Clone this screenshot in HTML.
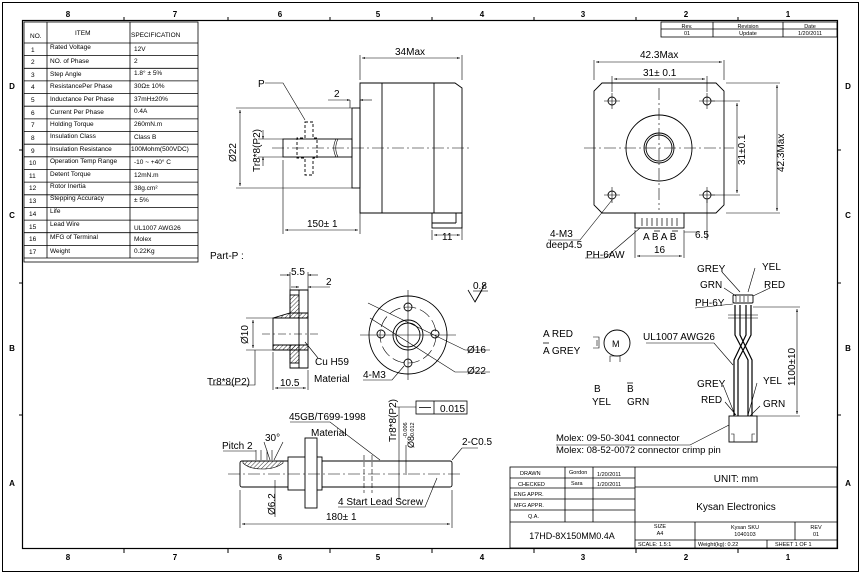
<!DOCTYPE html>
<html><head><meta charset="utf-8"><style>
html,body{margin:0;padding:0;background:#fff}
svg{display:block;font-family:"Liberation Sans",Arial,sans-serif}
</style></head><body>
<svg width="861" height="575" viewBox="0 0 861 575" xmlns="http://www.w3.org/2000/svg">
<defs>
<marker id="a" viewBox="0 0 10 10" refX="10" refY="5" markerWidth="5" markerHeight="5" orient="auto-start-reverse"><path d="M0,2L10,5L0,8z" fill="#000"/></marker>
<pattern id="h" width="3" height="3" patternUnits="userSpaceOnUse" patternTransform="rotate(45)"><line x1="0" y1="0" x2="0" y2="3" stroke="#000" stroke-width="0.8"/></pattern>
</defs>
<g fill="none" stroke="#000">
<rect x="2.5" y="2.5" width="856" height="569" stroke-width="1"/>
<rect x="22.5" y="20.5" width="815" height="528" stroke-width="1.2"/>
</g>
<g stroke="#000" stroke-width="1">
<path d="M124,17v3M228,17v3M330,17v3M432,17v3M534,17v3M636,17v3M738,17v3M124,549v4M228,549v4M330,549v4M432,549v4M534,549v4M636,549v4M738,549v4"/>
<path d="M19,150h3M19,283h3M19,415h3M838,150h3M838,283h3M838,415h3"/>
</g>
<g font-size="8" font-weight="bold" text-anchor="middle">
<text x="68" y="17">8</text><text x="175" y="17">7</text><text x="280" y="17">6</text><text x="378" y="17">5</text><text x="482" y="17">4</text><text x="583" y="17">3</text><text x="686" y="17">2</text><text x="788" y="17">1</text>
<text x="68" y="560">8</text><text x="175" y="560">7</text><text x="280" y="560">6</text><text x="378" y="560">5</text><text x="482" y="560">4</text><text x="583" y="560">3</text><text x="686" y="560">2</text><text x="788" y="560">1</text>
<text x="12" y="89">D</text><text x="12" y="218">C</text><text x="12" y="351">B</text><text x="12" y="486">A</text>
<text x="848" y="89">D</text><text x="848" y="218">C</text><text x="848" y="351">B</text><text x="848" y="486">A</text>
</g>
<g fill="none" stroke="#000" stroke-width="0.8">
<rect x="24" y="22" width="174" height="240"/>
<line x1="47" y1="22" x2="47" y2="258"/><line x1="130" y1="22" x2="130" y2="258"/>
<line x1="24" y1="43" x2="198" y2="43"/>
<path d="M24,55.6h174M24,68.3h174M24,80.9h174M24,93.6h174M24,106.2h174M24,118.9h174M24,131.5h174M24,144.2h174M24,156.8h174M24,169.5h174M24,182.1h174M24,194.8h174M24,207.4h174M24,220.1h174M24,232.7h174M24,245.4h174M24,258h174"/>
</g>
<g font-size="6.5">
<text x="30" y="38">NO.</text><text x="75" y="35">ITEM</text><text x="131" y="37">SPECIFICATION</text>
<text x="31" y="52">1</text><text x="50" y="49">Rated Voltage</text><text x="134" y="51">12V</text>
<text x="31" y="64">2</text><text x="50" y="63">NO. of Phase</text><text x="134" y="63">2</text>
<text x="31" y="77">3</text><text x="50" y="76">Step Angle</text><text x="134" y="75">1.8° ± 5%</text>
<text x="31" y="89">4</text><text x="50" y="88">ResistancePer Phase</text><text x="134" y="88">30Ω± 10%</text>
<text x="31" y="102">5</text><text x="50" y="101">Inductance Per Phase</text><text x="134" y="101">37mH±20%</text>
<text x="31" y="115">6</text><text x="50" y="114">Current Per Phase</text><text x="134" y="113">0.4A</text>
<text x="31" y="127">7</text><text x="50" y="126">Holding Torque</text><text x="134" y="126">260mN.m</text>
<text x="31" y="140">8</text><text x="50" y="138">Insulation Class</text><text x="134" y="139">Class B</text>
<text x="31" y="153">9</text><text x="50" y="151">Insulation Resistance</text><text x="131" y="151">100Mohm(500VDC)</text>
<text x="29" y="165">10</text><text x="50" y="163">Operation Temp Range</text><text x="134" y="164">-10 ~ +40° C</text>
<text x="29" y="178">11</text><text x="50" y="176">Detent Torque</text><text x="134" y="177">12mN.m</text>
<text x="29" y="190">12</text><text x="50" y="188">Rotor Inertia</text><text x="134" y="190">38g.cm²</text>
<text x="29" y="203">13</text><text x="50" y="200">Stepping Accuracy</text><text x="134" y="202">± 5%</text>
<text x="29" y="216">14</text><text x="50" y="213">Life</text>
<text x="29" y="229">15</text><text x="50" y="226">Lead Wire</text><text x="134" y="230">UL1007 AWG26</text>
<text x="29" y="241">16</text><text x="50" y="239">MFG of Terminal</text><text x="134" y="241">Molex</text>
<text x="29" y="254">17</text><text x="50" y="253">Weight</text><text x="134" y="253">0.22Kg</text>
</g>
<g fill="none" stroke="#000" stroke-width="0.8">
<rect x="661" y="22" width="176" height="15"/><line x1="661" y1="29" x2="837" y2="29"/>
<line x1="713" y1="22" x2="713" y2="37"/><line x1="783" y1="22" x2="783" y2="37"/>
</g>
<g font-size="5.5" text-anchor="middle">
<text x="687" y="28">Rev.</text><text x="748" y="28">Revision</text><text x="810" y="28">Date</text>
<text x="687" y="35">01</text><text x="748" y="35">Update</text><text x="810" y="35">1/20/2011</text>
</g>
<g fill="none" stroke="#000" stroke-width="0.8">
<rect x="510" y="467" width="327" height="81"/>
<line x1="635" y1="467" x2="635" y2="548"/>
<line x1="565" y1="467" x2="565" y2="522"/><line x1="593" y1="467" x2="593" y2="522"/>
<path d="M510,478h125M510,488h125M510,499h125M510,510h125M510,522h327M635,487h202M635,540h202"/>
<line x1="695" y1="522" x2="695" y2="548"/><line x1="795" y1="522" x2="795" y2="540"/><line x1="767" y1="540" x2="767" y2="548"/>
</g>
<g font-size="5.5">
<text x="520" y="475">DRAWN</text><text x="569" y="474">Gordon</text><text x="597" y="476">1/20/2011</text>
<text x="518" y="486">CHECKED</text><text x="571" y="485">Sara</text><text x="597" y="486">1/20/2011</text>
<text x="514" y="496">ENG APPR.</text><text x="514" y="507">MFG APPR.</text><text x="528" y="518">Q.A.</text>
<text x="638" y="546">SCALE: 1.5:1</text><text x="698" y="546">Weight(kg): 0.22</text><text x="775" y="546">SHEET 1 OF 1</text>
</g>
<g font-size="5.5" text-anchor="middle">
<text x="660" y="528">SIZE</text><text x="660" y="535">A4</text>
<text x="745" y="529">Kysan SKU</text><text x="745" y="536">1040103</text>
<text x="816" y="529">REV</text><text x="816" y="536">01</text>
</g>
<text x="736" y="482" font-size="10" text-anchor="middle">UNIT: mm</text>
<text x="736" y="510" font-size="10" text-anchor="middle">Kysan Electronics</text>
<text x="572" y="539" font-size="9" text-anchor="middle">17HD-8X150MM0.4A</text>

<g fill="none" stroke="#000" stroke-width="0.9">
<path d="M360,83H455L462,88V213H360Z"/>
<line x1="382" y1="83" x2="382" y2="213"/><line x1="434" y1="83" x2="434" y2="213"/>
<rect x="352" y="108" width="8" height="80"/>
<rect x="283" y="139" width="69" height="18"/>
<path d="M336,139c-3,6,-3,12,0,18M338,139c-3,6,-3,12,0,18" stroke-width="0.6"/>
<rect x="432" y="213" width="30" height="15"/><line x1="456" y1="213" x2="456" y2="223"/><line x1="432" y1="223" x2="456" y2="223"/>
<path d="M305,122h8v16h4v20h-4v17h-8v-17h-8v-20h8z" stroke-dasharray="3,2"/>
<line x1="272" y1="148" x2="470" y2="148" stroke-dasharray="12,3,2,3" stroke-width="0.6"/>
</g>
<g fill="none" stroke="#000" stroke-width="0.6">
<path d="M360,80V55M462,80V55M283,160V234M360,190V234M432,230V240M462,215V240M236,108H352M236,188H352M258,139H283M258,157H283M350,100V108M360,100V108M265,83H283L305,120"/>
<line x1="362" y1="58" x2="460" y2="58" marker-start="url(#a)" marker-end="url(#a)"/>
<line x1="285" y1="230" x2="358" y2="230" marker-start="url(#a)" marker-end="url(#a)"/>
<line x1="434" y1="235" x2="460" y2="235" marker-start="url(#a)" marker-end="url(#a)"/>
<line x1="240" y1="110" x2="240" y2="186" marker-start="url(#a)" marker-end="url(#a)"/>
<line x1="263" y1="130" x2="263" y2="139" marker-end="url(#a)"/><line x1="263" y1="166" x2="263" y2="157" marker-end="url(#a)"/>
<line x1="328" y1="100" x2="350" y2="100" marker-end="url(#a)"/><line x1="372" y1="100" x2="360" y2="100" marker-end="url(#a)"/>
</g>
<g font-size="10">
<text x="395" y="55">34Max</text><text x="334" y="97">2</text><text x="258" y="87">P</text>
<text x="307" y="227">150± 1</text><text x="442" y="240">11</text>
<text transform="translate(236,162) rotate(-90)">Ø22</text>
<text transform="translate(260,172) rotate(-90)">Tr8*8(P2)</text>
</g>
<g fill="none" stroke="#000" stroke-width="0.9">
<path d="M602,83H716L724,91V205L716,213H602L594,205V91Z"/>
<circle cx="659" cy="148" r="33"/><circle cx="659" cy="148" r="15"/><circle cx="659" cy="148" r="13"/>
<circle cx="612" cy="101" r="4"/><circle cx="707" cy="101" r="4"/><circle cx="612" cy="195" r="4"/><circle cx="707" cy="195" r="4"/>
<rect x="635" y="213" width="49" height="15"/>
<path d="M642,218v8M647,218v8M652,218v8M657,218v8M662,218v8M667,218v8M672,218v8M677,218v8" stroke-width="0.7"/>
</g>
<g fill="none" stroke="#000" stroke-width="0.6">
<line x1="584" y1="148" x2="734" y2="148" stroke-dasharray="12,3,2,3"/>
<line x1="659" y1="88" x2="659" y2="210" stroke-dasharray="12,3,2,3"/>
<path d="M604,101h16M612,93v16M699,101h16M707,93v16M604,195h16M612,187v16M699,195h16M707,187v16"/>
<path d="M594,80V60M724,80V60M612,92V76M707,92V76M711,101H740M711,195H740M726,83H780M726,213H780M612,200L580,240H548M640,228L605,258H585M635,230V258M684,230V258M707,200V240M684,232h16"/>
<line x1="596" y1="62" x2="722" y2="62" marker-start="url(#a)" marker-end="url(#a)"/>
<line x1="614" y1="79" x2="705" y2="79" marker-start="url(#a)" marker-end="url(#a)"/>
<line x1="737" y1="103" x2="737" y2="193" marker-start="url(#a)" marker-end="url(#a)"/>
<line x1="777" y1="85" x2="777" y2="211" marker-start="url(#a)" marker-end="url(#a)"/>
<line x1="637" y1="256" x2="682" y2="256" marker-start="url(#a)" marker-end="url(#a)"/>
</g>
<g font-size="10">
<text x="640" y="58">42.3Max</text><text x="643" y="76">31± 0.1</text>
<text transform="translate(745,165) rotate(-90)">31±0.1</text>
<text transform="translate(784,172) rotate(-90)">42.3Max</text>
<text x="550" y="237">4-M3</text><text x="546" y="248">deep4.5</text>
<text x="586" y="258">PH-6AW</text><text x="654" y="253">16</text>
<text x="643" y="240">A B A B</text><text x="695" y="238">6.5</text>
</g>
<path d="M654,231h6M672,231h6" stroke="#000" stroke-width="0.7"/>
<text x="210" y="259" font-size="10">Part-P :</text>
<g fill="none" stroke="#000" stroke-width="0.9">
<path d="M290,290h18v78h-18v-18h-17v-32h17z"/>
<rect x="290" y="295" width="9" height="18" fill="url(#h)"/>
<rect x="290" y="345" width="9" height="18" fill="url(#h)"/>
<path d="M290,313h18v5h-35z" fill="url(#h)"/>
<path d="M273,345h35v5h-35z" fill="url(#h)"/>
<line x1="299" y1="290" x2="299" y2="368"/>
<line x1="262" y1="334" x2="318" y2="334" stroke-dasharray="8,3,2,3" stroke-width="0.6"/>
<circle cx="408" cy="335" r="39"/><circle cx="408" cy="335" r="28" stroke-dasharray="12,4" stroke-width="0.6"/>
<circle cx="408" cy="335" r="15"/><circle cx="408" cy="335" r="12"/>
<circle cx="408" cy="307" r="4"/><circle cx="408" cy="363" r="4"/><circle cx="381" cy="334" r="4"/><circle cx="435" cy="334" r="4"/>
<path d="M468,290l7,12l7,-12" stroke-width="0.8"/><path d="M475,302l10,-18" stroke-width="0.8"/>
</g>
<g fill="none" stroke="#000" stroke-width="0.6">
<path d="M408,290V380M360,335H456M368,303L465,350H490M370,318L455,372H490M404,366L392,380H363M290,272V290M308,272V290M273,352V390M308,370V390M246,318H273M246,350H273M255,350V385H210M305,342L318,358"/>
<line x1="280" y1="275" x2="290" y2="275" marker-end="url(#a)"/><line x1="318" y1="275" x2="308" y2="275" marker-end="url(#a)"/>
<line x1="291" y1="287" x2="299" y2="287" marker-end="url(#a)"/><line x1="330" y1="287" x2="308" y2="287" marker-end="url(#a)"/>
<line x1="253" y1="320" x2="253" y2="348" marker-start="url(#a)" marker-end="url(#a)"/>
<line x1="275" y1="388" x2="306" y2="388" marker-start="url(#a)" marker-end="url(#a)"/>
<line x1="473" y1="291" x2="488" y2="291"/>
</g>
<g font-size="10">
<text x="291" y="275">5.5</text><text x="326" y="285">2</text>
<text transform="translate(248,344) rotate(-90)">Ø10</text>
<text x="280" y="386">10.5</text><text x="207" y="385">Tr8*8(P2)</text>
<text x="315" y="365">Cu H59</text><text x="314" y="382">Material</text>
<text x="467" y="353">Ø16</text><text x="467" y="374">Ø22</text><text x="363" y="378">4-M3</text>
<text x="473" y="289">0.8</text>
</g>
<g fill="none" stroke="#000" stroke-width="0.9">
<rect x="240" y="461" width="212" height="26" rx="2"/>
<rect x="288" y="457" width="34" height="33" fill="#fff"/>
<rect x="305" y="438" width="12" height="70" fill="#fff"/>
<path d="M243,463c8,8,30,8,40,0v-2h-40z" fill="url(#h)" stroke-width="0.6"/>
<path d="M364,455v38M372,455v38" stroke-dasharray="5,2" stroke-width="0.6"/>
<line x1="228" y1="474" x2="462" y2="474" stroke-dasharray="12,3,2,3" stroke-width="0.6"/>
<rect x="416" y="401" width="51" height="13" stroke-width="0.8"/><line x1="434" y1="401" x2="434" y2="414" stroke-width="0.8"/>
<line x1="419" y1="407.5" x2="431" y2="407.5" stroke-width="0.8"/>
</g>
<g fill="none" stroke="#000" stroke-width="0.6">
<path d="M240,490V528M452,490V528M256,450v10M261,450v10M267,450v10M272,450v10M223,451H256M264,442L270,460M283,442L274,460M275,480V517M290,422H330L380,460M395,407H416M399,407V500M338,507H425L437,478M452,460L462,448H478M406,445V475"/>
<line x1="242" y1="524" x2="450" y2="524" marker-start="url(#a)" marker-end="url(#a)"/>
</g>
<g font-size="10">
<text x="222" y="449">Pitch 2</text><text x="265" y="441">30°</text>
<text x="289" y="420">45GB/T699-1998</text><text x="311" y="436">Material</text>
<text x="462" y="445">2-C0.5</text><text x="338" y="505">4 Start Lead Screw</text>
<text x="326" y="520">180± 1</text>
<text transform="translate(275,515) rotate(-90)">Ø6.2</text>
<text transform="translate(396,442) rotate(-90)">Tr8*8(P2)</text>
<text transform="translate(414,448) rotate(-90)" font-size="9">Ø8</text>
<text transform="translate(407,438) rotate(-90)" font-size="5.5">-0.006</text>
<text transform="translate(414,438) rotate(-90)" font-size="5.5">-0.012</text>
<text x="440" y="412">0.015</text>
</g>
<g fill="none" stroke="#000" stroke-width="0.9">
<rect x="733" y="295" width="20" height="8" rx="1"/>
<path d="M736,296v6M740,296v6M744,296v6M748,296v6" stroke-width="0.6"/>
<path d="M735,305V335L748,360V416M740,305V335L752,360V416M746,305V335L734,360V416M751,305V335L738,360V416" stroke-width="1.2"/>
<path d="M728,315H758M728,318H758" stroke-width="0.6"/>
<rect x="729" y="416" width="28" height="26"/>
<path d="M731,434h3v8M755,434h-3v8" stroke-width="0.6"/>
<circle cx="617" cy="343" r="13"/>
<path d="M593,337h6v11h-6M610,362v-6h10v6M597,340v6" stroke-width="0.6"/>
</g>
<g fill="none" stroke="#000" stroke-width="0.6">
<path d="M722,272L740,292M755,268L748,292M724,288L736,296M770,288L753,296M695,308L733,304M646,343H714L733,365M723,385L735,415M757,383L748,415M725,402L736,415M760,406L750,416M556,445H690L729,425M753,307H800M757,416H800"/>
<line x1="797" y1="309" x2="797" y2="414" marker-start="url(#a)" marker-end="url(#a)"/>
</g>
<g font-size="10">
<text x="697" y="272">GREY</text><text x="762" y="270">YEL</text>
<text x="700" y="288">GRN</text><text x="764" y="288">RED</text>
<text x="695" y="306">PH-6Y</text>
<text x="643" y="340">UL1007 AWG26</text>
<text x="543" y="337">A RED</text><text x="543" y="354">A GREY</text>
<text x="612" y="347" font-size="9">M</text>
<text x="594" y="392">B</text><text x="592" y="405">YEL</text>
<text x="627" y="392">B</text><text x="627" y="405">GRN</text>
<text x="697" y="387">GREY</text><text x="763" y="384">YEL</text>
<text x="701" y="403">RED</text><text x="763" y="407">GRN</text>
<text transform="translate(795,386) rotate(-90)">1100±10</text>
<text x="556" y="441" font-size="9.5">Molex: 09-50-3041 connector</text>
<text x="556" y="453" font-size="9.5">Molex: 08-52-0072 connector crimp pin</text>
</g>
<path d="M543,343h6M627,383h6" stroke="#000" stroke-width="0.7"/>
</svg>
</body></html>
